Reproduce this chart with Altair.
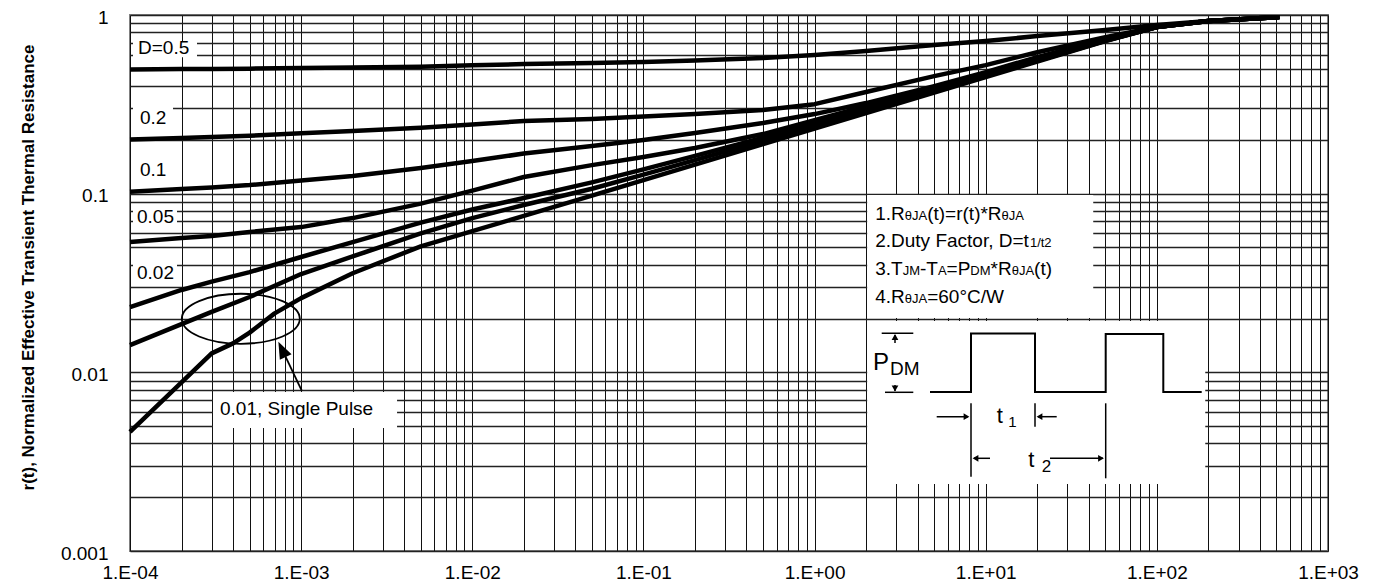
import json
import altair as alt
import pandas as pd

FONT = "Liberation Sans"

# ---------------- data ----------------
time_s = [1e-4, 2e-4, 3e-4, 5e-4, 1e-3, 2e-3, 5e-3, 1e-2, 2e-2, 5e-2, 0.1, 0.2, 0.5,
          1, 2, 5, 10, 20, 50, 100, 200, 520]
r_d050 = [0.496, 0.498, 0.499, 0.501, 0.505, 0.508, 0.514, 0.524, 0.531, 0.538, 0.545,
          0.556, 0.574, 0.597, 0.628, 0.679, 0.715, 0.762, 0.823, 0.878, 0.925, 0.973]
r_d020 = [0.201, 0.205, 0.2075, 0.211, 0.218, 0.224, 0.234, 0.244, 0.255, 0.262, 0.270,
          0.279, 0.294, 0.317, 0.371, 0.455, 0.524, 0.619, 0.750, 0.856, 0.925, 0.973]
r_d010 = [0.1025, 0.1061, 0.1082, 0.1117, 0.1184, 0.1255, 0.1391, 0.1522, 0.1677, 0.1847,
          0.1995, 0.2183, 0.2485, 0.2789, 0.3214, 0.4001, 0.4792, 0.5813, 0.7332, 0.856,
          0.925, 0.973]
r_d005 = [0.0536, 0.0564, 0.0579, 0.0610, 0.0650, 0.0730, 0.0880, 0.1040, 0.1239, 0.1445,
          0.1603, 0.1800, 0.2156, 0.2582, 0.3093, 0.3899, 0.4670, 0.5666, 0.7237, 0.856,
          0.925, 0.973]
r_d002 = [0.0232, 0.0289, 0.0322, 0.0364, 0.0442, 0.0536, 0.0689, 0.0815, 0.0945, 0.1156,
          0.1367, 0.1626, 0.2057, 0.2468, 0.2969, 0.3807, 0.4604, 0.5576, 0.720, 0.856,
          0.925, 0.973]
r_d001 = [0.0142, 0.0186, 0.0218, 0.0264, 0.0355, 0.0445, 0.0600, 0.0730, 0.0864, 0.1066,
          0.1279, 0.1540, 0.1976, 0.2391, 0.2897, 0.3744, 0.4549, 0.5531, 0.717, 0.856,
          0.925, 0.973]
time_single = [1e-4, 2e-4, 3e-4, 4e-4, 5e-4, 7e-4, 1e-3, 2e-3, 5e-3, 1e-2, 2e-2, 5e-2, 0.1,
               0.2, 0.5, 1, 2, 5, 10, 20, 50, 100, 200, 520]
r_single = [0.00464, 0.00879, 0.01277, 0.01453, 0.01668, 0.02137, 0.02602, 0.03586, 0.05071,
            0.06176, 0.07503, 0.0976, 0.1191, 0.1455, 0.1895, 0.2314, 0.2825, 0.3681, 0.4494,
            0.5486, 0.7145, 0.856, 0.925, 0.973]

x_tick_labels = ["1.E-04", "1.E-03", "1.E-02", "1.E-01", "1.E+00", "1.E+01", "1.E+02", "1.E+03"]
y_tick_labels = ["0.001", "0.01", "0.1", "1"]

curve_labels = ["D=0.5", "0.2", "0.1", "0.05", "0.02", "0.01, Single Pulse"]
curve_label_t = [1.114e-4, 1.144e-4, 1.144e-4, 1.099e-4, 1.099e-4, 3.357e-4]
curve_label_r = [0.653, 0.264, 0.1358, 0.0743, 0.0361, 0.00621]

# white label boxes (data units)
box_t1 = [1.041e-4, 1.041e-4, 1.041e-4, 1.041e-4, 1.041e-4, 3.055e-4, 2.029, 2.029]
box_t2 = [2.463e-4, 1.784e-4, 1.668e-4, 1.882e-4, 1.882e-4, 3.634e-3, 42.49, 191.8]
box_r1 = [0.581, 0.233, 0.1223, 0.0659, 0.0312, 0.00488, 0.02013, 0.002371]
box_r2 = [0.7145, 0.3092, 0.1582, 0.0841, 0.0420, 0.00776, 0.0982, 0.01937]

notes_t = 2.261
notes_r = [0.0776, 0.0550, 0.03836, 0.02673]
notes = [
    [("1.R", 0), ("θJA", 1), ("(t)=r(t)*R", 0), ("θJA", 1)],
    [("2.Duty Factor, D=t", 0), ("1/t2", 1)],
    [("3.T", 0), ("JM", 1), ("-T", 0), ("A", 1), ("=P", 0), ("DM", 1), ("*R", 0), ("θJA", 1), ("(t)", 0)],
    [("4.R", 0), ("θJA", 1), ("=60°C/W", 0)],
]

# ---------------- scales / axes ----------------
xscale = alt.Scale(type="log", domain=[1e-4, 1e3], nice=False)
yscale = alt.Scale(type="log", domain=[1e-3, 1], nice=False)
x_grid = [m * 10.0 ** e for e in range(-4, 3) for m in range(1, 10)] + [1e3]
y_grid = [m * 10.0 ** e for e in range(-3, 0) for m in range(1, 10)] + [1.0]

lg = "(log(datum.value)/LN10)"
x_expr = f"abs({lg} - round({lg})) < 0.01 ? {json.dumps(x_tick_labels)}[round({lg}) + 4] : ''"
y_expr = f"abs({lg} - round({lg})) < 0.01 ? {json.dumps(y_tick_labels)}[round({lg}) + 3] : ''"

xaxis = alt.Axis(values=x_grid, labelExpr=x_expr, grid=True, gridColor="#111111", gridWidth=1,
                 ticks=False, tickSize=0, domain=False, labelFontSize=19, labelFont=FONT,
                 labelColor="black", labelBaseline="middle", labelPadding=21, labelFlush=False,
                 labelOverlap=False, labelBound=False, title=None)
yaxis = alt.Axis(values=y_grid, labelExpr=y_expr, grid=True, gridColor="#222222", gridWidth=1.4,
                 ticks=False, tickSize=0, domain=False, labelFontSize=19, labelFont=FONT,
                 labelColor="black", labelBaseline="middle", labelPadding=22, labelFlush=False,
                 labelOverlap=False, labelBound=False, labelOffset=2,
                 title="r(t), Normalized Effective Transient Thermal Resistance",
                 titleFont=FONT, titleFontSize=17, titleFontWeight="bold", titleColor="black",
                 titleAngle=270, titleX=-102, titleY=252, titleAlign="center",
                 titleBaseline="middle")


def X(f):
    return alt.X(f, type="quantitative", scale=xscale, axis=xaxis)


def Y(f):
    return alt.Y(f, type="quantitative", scale=yscale, axis=yaxis)


# ---------------- curves ----------------
curves = [("0.5", time_s, r_d050), ("0.2", time_s, r_d020), ("0.1", time_s, r_d010),
          ("0.05", time_s, r_d005), ("0.02", time_s, r_d002), ("0.01", time_s, r_d001),
          ("single", time_single, r_single)]
rows = []
for name, xs, ys in curves:
    for i, (a, b) in enumerate(zip(xs, ys)):
        rows.append({"series": name, "t": a, "r": b, "i": i})
df = pd.DataFrame(rows)

lines = alt.Chart(df).mark_line(color="black", strokeWidth=4.5, strokeJoin="round").encode(
    x=X("t"), y=Y("r"), detail="series:N", order="i:Q")

boxes = alt.Chart(pd.DataFrame({"t": box_t1, "t2": box_t2, "r": box_r1, "r2": box_r2})).mark_rect(
    color="white", opacity=1).encode(x=X("t"), x2="t2", y=Y("r"), y2="r2")

labels = alt.Chart(pd.DataFrame({"t": curve_label_t, "r": curve_label_r, "txt": curve_labels})).mark_text(
    align="left", baseline="middle", fontSize=19, font=FONT, color="black").encode(
    x=X("t"), y=Y("r"), text="txt:N")

ELLIPSE = ("M-1,0 C-1,-0.234 -0.552,-0.424 0,-0.424 C0.552,-0.424 1,-0.234 1,0 "
           "C1,0.234 0.552,0.424 0,0.424 C-0.552,0.424 -1,0.234 -1,0 Z")
ellipse = alt.Chart(pd.DataFrame({"t": [4.44e-4], "r": [0.01994]})).mark_point(
    shape=ELLIPSE, size=13924, filled=False, color="black", strokeWidth=1.8, opacity=1).encode(
    x=X("t"), y=Y("r"))

arrow_line = alt.Chart(pd.DataFrame({"t": [1.008e-3], "r": [0.00789], "t2": [7.80e-4], "r2": [0.01321]})).mark_rule(
    color="black", strokeWidth=1.8).encode(x=X("t"), y=Y("r"), x2="t2", y2="r2")
ARROW = "M0,-1 L0.65,0.7 L-0.65,0.7 Z"
arrow_head = alt.Chart(pd.DataFrame({"t": [7.80e-4], "r": [0.01321]})).mark_point(
    shape=ARROW, size=400, filled=True, color="black", opacity=1, angle=334.5).encode(
    x=X("t"), y=Y("r"))

# notes with smaller subscript-like fragments
W = {' ': 278, '(': 333, ')': 333, '*': 389, ',': 278, '-': 333, '.': 278, '/': 278, '=': 584,
     '°': 400, 'θ': 556, 'A': 667, 'C': 722, 'D': 722, 'F': 611, 'J': 500, 'M': 833, 'P': 667,
     'R': 722, 'T': 611, 'W': 944, 'a': 556, 'c': 500, 'o': 556, 'r': 333, 't': 278, 'u': 556,
     'y': 500}


def tw(s, size):
    return sum(W.get(c, 556) for c in s) / 1000.0 * size


note_layers = []
for line, rv in zip(notes, notes_r):
    off = 0.0
    for frag, small in line:
        fs = 13 if small else 19
        note_layers.append(
            alt.Chart(pd.DataFrame({"t": [notes_t], "r": [rv]})).mark_text(
                text=frag, align="left", baseline="alphabetic", dx=off, dy=7, fontSize=fs,
                font=FONT, color="black").encode(x=X("t"), y=Y("r")))
        off += tw(frag, fs)

main = alt.layer(lines, boxes, labels, ellipse, arrow_line, arrow_head, *note_layers)

# ---------------- pulse diagram (own local units) ----------------
dsx = alt.Scale(domain=[-737, 461], nice=False, zero=False)
dsy = alt.Scale(domain=[-306, 230], nice=False, zero=False, reverse=True)


def DX(f):
    return alt.X(f, type="quantitative", scale=dsx, axis=None)


def DY(f):
    return alt.Y(f, type="quantitative", scale=dsy, axis=None)


wave_x = [63, 104, 104, 168, 168, 238.7, 238.7, 296.3, 296.3, 334.7]
wave_y = [71, 71, 12.5, 12.5, 71, 71, 13, 13, 71, 71]
seg_x1 = [14.7, 18, 28, 28, 104, 168, 238.7, 69.7, 171, 107, 183]
seg_y1 = [12.3, 71.3, 14, 64, 82.3, 82.3, 82.3, 95.7, 95.7, 137.3, 137.3]
seg_x2 = [46.3, 46.3, 28, 28, 104, 168, 238.7, 101, 189.7, 123, 236]
seg_y2 = [12.3, 71.3, 22, 70, 155.7, 105.7, 157.3, 95.7, 95.7, 137.3, 137.3]
head_x = [28, 28, 99.5, 172.5, 108.5, 234]
head_y = [16, 67.5, 95.7, 95.7, 137.3, 137.3]
head_shape = ["triangle-up", "triangle-down", "triangle-right", "triangle-left",
              "triangle-left", "triangle-right"]
dtext = [("P", 6, 49, 24), ("DM", 23, 54, 19), ("t", 129.7, 102.3, 22), ("1", 141.3, 105.7, 15),
         ("t", 161.3, 145.7, 22), ("2", 174.7, 150.7, 17)]

wave = alt.Chart(pd.DataFrame({"lx": wave_x, "ly": wave_y, "i": list(range(len(wave_x)))})).mark_line(
    color="black", strokeWidth=2).encode(x=DX("lx"), y=DY("ly"), order="i:Q")
segs = alt.Chart(pd.DataFrame({"lx": seg_x1, "ly": seg_y1, "lx2": seg_x2, "ly2": seg_y2})).mark_rule(
    color="black", strokeWidth=1.5).encode(x=DX("lx"), y=DY("ly"), x2="lx2", y2="ly2")
heads = alt.Chart(pd.DataFrame({"lx": head_x, "ly": head_y, "sh": head_shape})).mark_point(
    filled=True, color="black", size=45, opacity=1).encode(
    x=DX("lx"), y=DY("ly"), shape=alt.Shape("sh:N", scale=None))
dlayers = []
for s, lx, ly, fs in dtext:
    dlayers.append(alt.Chart(pd.DataFrame({"lx": [lx], "ly": [ly]})).mark_text(
        text=s, align="left", baseline="alphabetic", fontSize=fs, font=FONT, color="black").encode(
        x=DX("lx"), y=DY("ly")))

diagram = alt.layer(wave, segs, heads, *dlayers)

chart = alt.layer(main, diagram).resolve_scale(x="independent", y="independent").properties(
    width=1198, height=536,
    padding={"left": 130, "top": 15, "right": 51, "bottom": 36},
    autosize=alt.AutoSizeParams(type="none"),
    background="white",
).configure(font=FONT).configure_view(stroke="#808080", strokeWidth=2)

chart.save("out.html", embed_options={"renderer": "svg", "actions": False})
